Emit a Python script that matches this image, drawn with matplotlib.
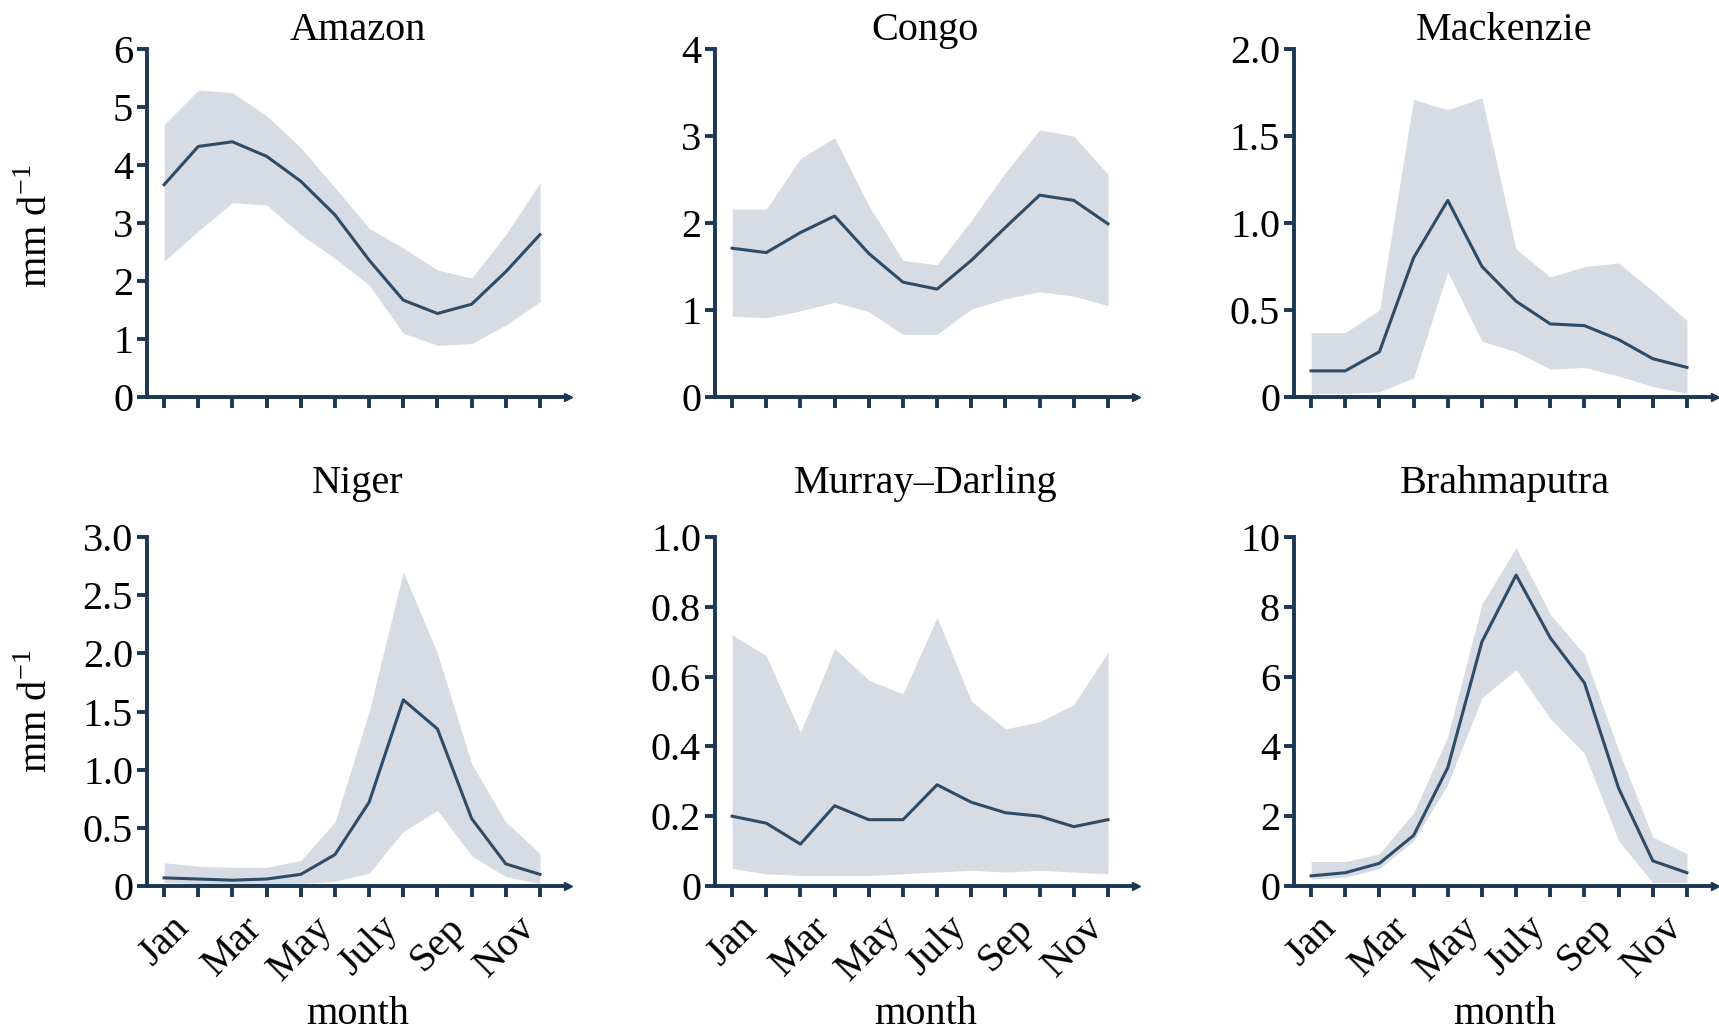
import matplotlib
matplotlib.use('Agg')
import matplotlib.pyplot as plt

plt.rcParams['font.family'] = ['Liberation Serif', 'DejaVu Serif']
plt.rcParams['mathtext.fontset'] = 'custom'
plt.rcParams['mathtext.rm'] = 'Liberation Serif'

months = [1, 2, 3, 4, 5, 6, 7, 8, 9, 10, 11, 12]
month_labels = ['Jan', 'Mar', 'May', 'July', 'Sep', 'Nov']

basins = ['Amazon', 'Congo', 'Mackenzie', 'Niger', 'Murray\u2013Darling', 'Brahmaputra']

# monthly mean and spread (upper / lower envelope), mm/day
amazon_mean = [3.66, 4.32, 4.40, 4.15, 3.72, 3.14, 2.36, 1.67, 1.44, 1.60, 2.16, 2.80]
amazon_up = [4.70, 5.29, 5.25, 4.85, 4.30, 3.61, 2.91, 2.57, 2.19, 2.05, 2.80, 3.69]
amazon_lo = [2.34, 2.86, 3.35, 3.31, 2.80, 2.39, 1.93, 1.10, 0.89, 0.92, 1.24, 1.64]

congo_mean = [1.71, 1.66, 1.89, 2.08, 1.65, 1.32, 1.24, 1.57, 1.95, 2.32, 2.26, 1.99]
congo_up = [2.16, 2.16, 2.74, 2.98, 2.20, 1.57, 1.52, 2.03, 2.58, 3.07, 3.00, 2.56]
congo_lo = [0.93, 0.91, 0.99, 1.09, 0.98, 0.72, 0.72, 1.01, 1.13, 1.21, 1.16, 1.05]

mack_mean = [0.15, 0.15, 0.26, 0.80, 1.13, 0.75, 0.55, 0.42, 0.41, 0.33, 0.22, 0.17]
mack_up = [0.37, 0.37, 0.50, 1.71, 1.65, 1.72, 0.85, 0.69, 0.75, 0.77, 0.61, 0.44]
mack_lo = [0.02, 0.02, 0.03, 0.11, 0.72, 0.32, 0.26, 0.16, 0.17, 0.12, 0.06, 0.02]

niger_mean = [0.07, 0.06, 0.05, 0.06, 0.10, 0.27, 0.72, 1.60, 1.35, 0.58, 0.19, 0.10]
niger_up = [0.20, 0.17, 0.16, 0.16, 0.22, 0.55, 1.50, 2.70, 2.00, 1.05, 0.55, 0.28]
niger_lo = [0.03, 0.02, 0.01, 0.01, 0.02, 0.04, 0.11, 0.47, 0.65, 0.26, 0.08, 0.02]

murray_mean = [0.20, 0.18, 0.12, 0.23, 0.19, 0.19, 0.29, 0.24, 0.21, 0.20, 0.17, 0.19]
murray_up = [0.72, 0.66, 0.44, 0.68, 0.59, 0.55, 0.77, 0.53, 0.45, 0.47, 0.52, 0.67]
murray_lo = [0.05, 0.035, 0.03, 0.03, 0.03, 0.035, 0.04, 0.045, 0.04, 0.045, 0.04, 0.035]

brahma_mean = [0.29, 0.38, 0.65, 1.45, 3.39, 7.00, 8.91, 7.11, 5.82, 2.80, 0.72, 0.38]
brahma_up = [0.70, 0.70, 0.92, 2.10, 4.28, 8.08, 9.70, 7.79, 6.63, 3.88, 1.40, 0.92]
brahma_lo = [0.20, 0.25, 0.50, 1.29, 2.91, 5.39, 6.20, 4.80, 3.80, 1.29, 0.10, 0.10]

means = [amazon_mean, congo_mean, mack_mean, niger_mean, murray_mean, brahma_mean]
uppers = [amazon_up, congo_up, mack_up, niger_up, murray_up, brahma_up]
lowers = [amazon_lo, congo_lo, mack_lo, niger_lo, murray_lo, brahma_lo]

yticks = [
    [0, 1, 2, 3, 4, 5, 6],
    [0, 1, 2, 3, 4],
    [0, 0.5, 1.0, 1.5, 2.0],
    [0, 0.5, 1.0, 1.5, 2.0, 2.5, 3.0],
    [0, 0.2, 0.4, 0.6, 0.8, 1.0],
    [0, 2, 4, 6, 8, 10],
]
ytick_labels = [
    ['0', '1', '2', '3', '4', '5', '6'],
    ['0', '1', '2', '3', '4'],
    ['0', '0.5', '1.0', '1.5', '2.0'],
    ['0', '0.5', '1.0', '1.5', '2.0', '2.5', '3.0'],
    ['0', '0.2', '0.4', '0.6', '0.8', '1.0'],
    ['0', '2', '4', '6', '8', '10'],
]

axis_col = '#1b3753'
line_col = '#2f4b66'
fill_col = '#d6dbe4'

W, H = 1719, 1035
fig = plt.figure(figsize=(W / 100, H / 100), dpi=100)

lefts = [147, 715, 1294]
width = 421
rows = [(397, 49), (886, 537)]  # (bottom px, top px)

for i in range(6):
    r, c = divmod(i, 3)
    bot, top = rows[r]
    ax = fig.add_axes([lefts[c] / W, 1 - bot / H, width / W, (bot - top) / H])

    ax.fill_between(months, lowers[i], uppers[i], color=fill_col, linewidth=0)
    ax.plot(months, means[i], color=line_col, linewidth=2.2)

    ax.set_xlim(0.5, 12.82)
    ax.set_ylim(0, yticks[i][-1])
    ax.set_yticks(yticks[i])
    ax.set_yticklabels(ytick_labels[i])
    ax.set_xticks(months)
    if r == 1:
        ax.set_xticklabels([month_labels[k // 2] if k % 2 == 0 else '' for k in range(12)],
                           rotation=45, fontsize=29)
        ax.set_xlabel('month', fontsize=29, labelpad=6)
    else:
        ax.set_xticklabels([])

    for s in ['top', 'right']:
        ax.spines[s].set_visible(False)
    for s in ['left', 'bottom']:
        ax.spines[s].set_color(axis_col)
        ax.spines[s].set_linewidth(2.8)
    ax.tick_params(axis='y', direction='out', length=7, width=2.8, color=axis_col,
                   labelsize=29, pad=3)
    ax.tick_params(axis='x', direction='out', length=8, width=2.8, color=axis_col, pad=9)
    # small arrow head at the end of the x axis
    ax.plot([1.0], [0.0], marker='>', markersize=6, color=axis_col,
            transform=ax.transAxes, clip_on=False)

    ax.set_title(basins[i], fontsize=29, pad=6 if r == 0 else 32)
    if c == 0:
        ax.set_ylabel(r'mm d$^{-1}$', fontsize=29)
        ax.yaxis.set_label_coords(-0.215, 0.49 if r == 0 else 0.5)

fig.savefig('out.png', dpi=100, facecolor='white')
